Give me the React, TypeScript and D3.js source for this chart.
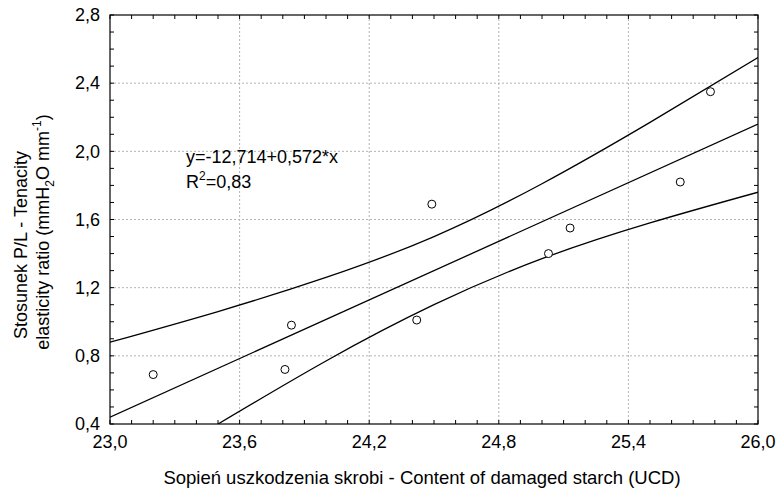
import { useEffect, useRef } from "react"
import * as d3 from "d3"

// Tick labels of both axes
const xTicks = [23.0, 23.6, 24.2, 24.8, 25.4, 26.0]
const yTicks = [0.4, 0.8, 1.2, 1.6, 2.0, 2.4, 2.8]

const pointX = [23.2, 23.81, 23.84, 24.42, 24.49, 25.03, 25.13, 25.64, 25.78]
const pointY = [0.69, 0.72, 0.98, 1.01, 1.69, 1.4, 1.55, 1.82, 2.35]

// Regression line y=-12,714+0,572*x at the ends of the axis
const fitX = [23.0, 26.0]
const fitY = [0.44, 2.16]

// Confidence band
const upperX = [23.0, 23.5, 24.0, 24.5, 25.0, 25.5, 26.0]
const upperY = [0.88, 1.06, 1.26, 1.5, 1.81, 2.17, 2.55]
const lowerX = [23.5, 24.0, 24.5, 25.0, 25.5, 26.0]
const lowerY = [0.4, 0.77, 1.1, 1.37, 1.58, 1.76]

const FONT = "'Liberation Sans', Arial, sans-serif"
const W = 778
const H = 490

const fmt = (v: number) => d3.format(".1f")(v).replace(".", ",")

export default function App() {
  const svgRef = useRef<SVGSVGElement>(null)

  useEffect(() => {
    if (!svgRef.current) return
    const svg = d3.select(svgRef.current)
    svg.selectAll("*").remove()

    const margin = { top: 15, right: 20, bottom: 66, left: 110 }
    const width = W - margin.left - margin.right
    const height = H - margin.top - margin.bottom

    const x = d3.scaleLinear().domain([23.0, 26.0]).range([0, width])
    const y = d3.scaleLinear().domain([0.4, 2.8]).range([height, 0])

    const g = svg.append("g").attr("transform", `translate(${margin.left},${margin.top})`)

    svg
      .append("defs")
      .append("clipPath")
      .attr("id", "plot-clip")
      .append("rect")
      .attr("width", width)
      .attr("height", height)

    // Grille pointillée
    g.append("g")
      .selectAll("line")
      .data(xTicks.slice(1, -1))
      .enter()
      .append("line")
      .attr("x1", (d) => x(d))
      .attr("x2", (d) => x(d))
      .attr("y1", 0)
      .attr("y2", height)
      .attr("stroke", "#b4b4b4")
      .attr("stroke-width", 1)
      .attr("stroke-dasharray", "2,2")
    g.append("g")
      .selectAll("line")
      .data(yTicks.slice(1, -1))
      .enter()
      .append("line")
      .attr("x1", 0)
      .attr("x2", width)
      .attr("y1", (d) => y(d))
      .attr("y2", (d) => y(d))
      .attr("stroke", "#b4b4b4")
      .attr("stroke-width", 1)
      .attr("stroke-dasharray", "2,2")

    // Small ticks on all four sides, every 0.1
    const minorX = d3.range(23.0, 26.001, 0.1)
    const minorY = d3.range(0.4, 2.801, 0.1)
    const tickLen = 4
    const ticks = g.append("g").attr("stroke", "#000").attr("stroke-width", 1)
    minorX.forEach((v) => {
      ticks.append("line").attr("x1", x(v)).attr("x2", x(v)).attr("y1", height).attr("y2", height - tickLen)
      ticks.append("line").attr("x1", x(v)).attr("x2", x(v)).attr("y1", 0).attr("y2", tickLen)
    })
    minorY.forEach((v) => {
      ticks.append("line").attr("x1", 0).attr("x2", tickLen).attr("y1", y(v)).attr("y2", y(v))
      ticks.append("line").attr("x1", width).attr("x2", width - tickLen).attr("y1", y(v)).attr("y2", y(v))
    })

    // Lignes : régression et bande de confiance
    const line = d3
      .line<[number, number]>()
      .x((d) => x(d[0]))
      .y((d) => y(d[1]))
      .curve(d3.curveNatural)

    const lines = g.append("g").attr("clip-path", "url(#plot-clip)")
    const series: Array<[number, number][]> = [
      fitX.map((v, i) => [v, fitY[i]]),
      upperX.map((v, i) => [v, upperY[i]]),
      lowerX.map((v, i) => [v, lowerY[i]]),
    ]
    series.forEach((s) => {
      lines
        .append("path")
        .datum(s)
        .attr("fill", "none")
        .attr("stroke", "#000")
        .attr("stroke-width", 1.3)
        .attr("d", line)
    })

    // Points
    g.append("g")
      .selectAll("circle")
      .data(pointX.map((v, i) => [v, pointY[i]]))
      .enter()
      .append("circle")
      .attr("cx", (d) => x(d[0]))
      .attr("cy", (d) => y(d[1]))
      .attr("r", 4)
      .attr("fill", "#fff")
      .attr("stroke", "#000")
      .attr("stroke-width", 1)

    // Cadre
    g.append("rect")
      .attr("width", width)
      .attr("height", height)
      .attr("fill", "none")
      .attr("stroke", "#000")
      .attr("stroke-width", 1.2)

    // Tick labels
    g.append("g")
      .selectAll("text")
      .data(xTicks)
      .enter()
      .append("text")
      .attr("x", (d) => x(d))
      .attr("y", height + 24)
      .attr("text-anchor", "middle")
      .attr("font-family", FONT)
      .attr("font-size", 18)
      .text((d) => fmt(d))
    g.append("g")
      .selectAll("text")
      .data(yTicks)
      .enter()
      .append("text")
      .attr("x", -10)
      .attr("y", (d) => y(d))
      .attr("dy", "0.35em")
      .attr("text-anchor", "end")
      .attr("font-family", FONT)
      .attr("font-size", 18)
      .text((d) => fmt(d))

    // Axis titles
    svg
      .append("text")
      .attr("x", 422)
      .attr("y", 484)
      .attr("text-anchor", "middle")
      .attr("font-family", FONT)
      .attr("font-size", 18.5)
      .text("Sopień uszkodzenia skrobi - Content of damaged starch (UCD)")

    svg
      .append("text")
      .attr("transform", "translate(27,245) rotate(-90)")
      .attr("text-anchor", "middle")
      .attr("font-family", FONT)
      .attr("font-size", 18)
      .text("Stosunek P/L - Tenacity")

    const t2 = svg
      .append("text")
      .attr("transform", "translate(49,232) rotate(-90)")
      .attr("text-anchor", "middle")
      .attr("font-family", FONT)
      .attr("font-size", 18)
    t2.append("tspan").text("elasticity ratio (mmH")
    t2.append("tspan").attr("dy", 5).attr("font-size", 12).text("2")
    t2.append("tspan").attr("dy", -5).text("O mm")
    t2.append("tspan").attr("dy", -8).attr("font-size", 12).text("-1")
    t2.append("tspan").attr("dy", 8).text(")")

    // Equation
    svg
      .append("text")
      .attr("x", 186)
      .attr("y", 163)
      .attr("font-family", FONT)
      .attr("font-size", 18)
      .text("y=-12,714+0,572*x")
    const r2 = svg
      .append("text")
      .attr("x", 186)
      .attr("y", 188)
      .attr("font-family", FONT)
      .attr("font-size", 18)
    r2.append("tspan").text("R")
    r2.append("tspan").attr("dy", -8).attr("font-size", 12).text("2")
    r2.append("tspan").attr("dy", 8).text("=0,83")
  }, [])

  return (
    <svg
      ref={svgRef}
      width={W}
      height={H}
      style={{ position: "absolute", left: 0, top: 0, background: "#fff" }}
    />
  )
}
